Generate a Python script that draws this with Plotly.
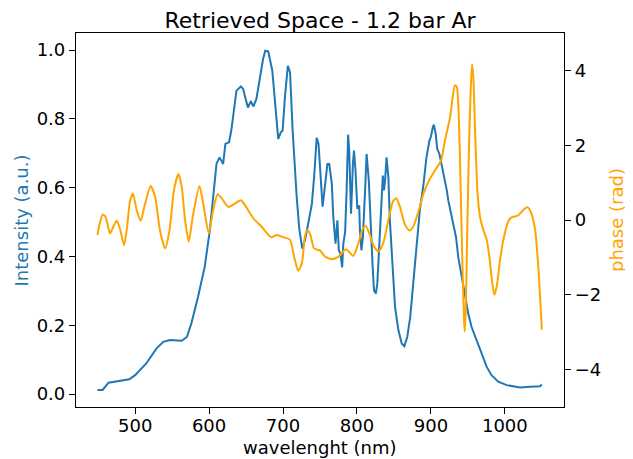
import plotly.graph_objects as go

# Intensity (blue) curve
wl_int = [449, 456, 464, 475, 488, 492, 500, 515, 529, 538, 547, 563, 570, 576, 585, 594, 601, 606.5, 610, 614,
          619, 622, 627, 630, 634, 637, 643, 646, 649.5, 652.5, 656.5, 660, 664, 669, 673, 676, 680, 685.5, 689, 693.5,
          697, 699.5, 702.5, 706.5, 709.5, 713, 718.5, 722, 726, 730, 734, 739, 742, 745.5, 748, 751, 753.5, 757, 760,
          762.5, 766, 768, 771, 773.5, 775.5, 777.5, 780, 781.5, 784, 786, 788, 789.5, 792, 794.5, 796, 798, 800.5, 803,
          804, 806, 808, 811, 813, 816, 818.5, 821, 823, 825.5, 827.5, 830, 833.5, 835, 836.5, 838, 840, 842.5, 844.5,
          848, 851.5, 856, 860.5, 864, 868, 872, 876, 881, 885, 890, 894, 898, 900, 902.5, 904, 906.5, 908.5, 911.5,
          914.5, 917.5, 921.5, 923.5, 927, 930, 934, 937, 941.5, 946, 950.5, 955, 962, 969, 975.5, 982, 991, 1002.5,
          1014, 1020.5, 1034, 1047.5, 1050]
intensity = [0.012, 0.012, 0.033, 0.037, 0.041, 0.043, 0.055, 0.089, 0.133, 0.152, 0.157, 0.155, 0.166, 0.205, 0.282,
             0.369, 0.476, 0.592, 0.669, 0.688, 0.669, 0.727, 0.732, 0.766, 0.824, 0.882, 0.894, 0.887, 0.858, 0.833,
             0.851, 0.836, 0.858, 0.920, 0.974, 0.998, 0.996, 0.940, 0.862, 0.742, 0.761, 0.766, 0.862, 0.954, 0.935,
             0.766, 0.572, 0.480, 0.423, 0.450, 0.495, 0.553, 0.630, 0.745, 0.727, 0.611, 0.545, 0.611, 0.669, 0.669,
             0.611, 0.514, 0.437, 0.505, 0.418, 0.410, 0.368, 0.437, 0.471, 0.592, 0.754, 0.708, 0.524, 0.669, 0.708,
             0.650, 0.539, 0.548, 0.476, 0.418, 0.456, 0.592, 0.698, 0.621, 0.476, 0.379, 0.302, 0.292, 0.321, 0.437,
             0.601, 0.635, 0.592, 0.621, 0.688, 0.630, 0.505, 0.360, 0.253, 0.186, 0.147, 0.139, 0.166, 0.224, 0.321,
             0.427, 0.534, 0.611, 0.688, 0.737, 0.748, 0.775, 0.783, 0.756, 0.713, 0.698, 0.669, 0.640, 0.592, 0.563,
             0.529, 0.495, 0.456, 0.398, 0.340, 0.282, 0.234, 0.195, 0.157, 0.118, 0.079, 0.055, 0.036, 0.026, 0.021,
             0.019, 0.021, 0.023, 0.028]

# Phase (orange) curve
wl_phase = [449, 452, 456, 460, 466, 470, 475, 479, 485, 489, 493, 497, 502, 507.5, 513, 521, 527, 533.5, 540.5, 546.5,
            552.5, 558.5, 563, 567.5, 572.5, 578, 587, 592, 599.5, 605.5, 611.5, 617, 626, 635, 643, 648.5, 660, 671,
            684, 691.5, 700.5, 709.5, 715, 720.5, 725.5, 729.5, 733, 737, 742, 750, 757, 766, 775, 785, 795, 802, 808,
            812, 817.5, 823, 829, 835.5, 842.5, 848.5, 853, 858, 865, 871, 876, 883, 890, 896.5, 905.5, 913.5, 919,
            926, 929.5, 932.5, 935, 937, 939.5, 942, 944.8, 945.7, 947, 949.2, 951.5, 953.8, 955.6, 957.4, 959.7,
            962.8, 966.4, 971, 975.5, 979, 983, 985.8, 989, 993.5, 998, 1004.5, 1009, 1018, 1025, 1030.5, 1035, 1041,
            1045.5, 1050]
phase = [-0.40, -0.10, 0.15, 0.08, -0.36, -0.20, -0.02, -0.20, -0.67, -0.20, 0.50, 0.71, 0.27, -0.02, 0.40, 0.91,
         0.62, -0.27, -0.76, -0.27, 0.80, 1.23, 0.89, 0.00, -0.58, 0.10, 0.91, 0.45, -0.36, 0.27, 0.69, 0.58, 0.35,
         0.44, 0.53, 0.40, 0.04, -0.18, -0.46, -0.40, -0.46, -0.53, -0.98, -1.36, -1.16, -0.45, -0.27, -0.40, -0.76,
         -0.82, -0.98, -1.05, -0.98, -0.78, -0.96, -0.62, -0.22, -0.16, -0.40, -0.71, -0.84, -0.62, 0.00, 0.49, 0.58,
         0.36, -0.13, -0.28, -0.18, 0.22, 0.71, 1.02, 1.33, 1.58, 2.13, 2.75, 3.29, 3.60, 3.56, 3.11, 1.51, -0.71,
         -2.67, -2.98, -2.49, -0.27, 1.96, 3.47, 4.16, 3.82, 2.40, 0.80, 0.09, -0.27, -0.53, -0.98, -1.69, -2.00,
         -1.78, -1.07, -0.53, -0.04, 0.07, 0.12, 0.27, 0.34, 0.22, -0.27, -1.33, -2.93]

x_ticks = [500, 600, 700, 800, 900, 1000]
y_ticks = [0.0, 0.2, 0.4, 0.6, 0.8, 1.0]
y2_ticks = [-4, -2, 0, 2, 4]

BLUE = "#1f77b4"
ORANGE = "orange"
FONT = "DejaVu Sans"

fig = go.Figure()
fig.add_trace(go.Scatter(x=wl_int, y=intensity, mode="lines", line=dict(color=BLUE, width=2), yaxis="y"))
fig.add_trace(go.Scatter(x=wl_phase, y=phase, mode="lines", line=dict(color=ORANGE, width=2, shape="spline", smoothing=0.6),
                         yaxis="y2"))

axis_common = dict(showgrid=False, zeroline=False, showline=True, linecolor="black", linewidth=1.2,
                   ticks="outside", ticklen=6, tickwidth=1.2, tickcolor="black",
                   tickfont=dict(family=FONT, size=18, color="black"))

W, H = 625, 451
fig.update_layout(
    width=W, height=H,
    margin=dict(l=68, r=69, t=25, b=52),
    paper_bgcolor="white", plot_bgcolor="white",
    showlegend=False,
    font=dict(family=FONT, color="black"),
    title=dict(text="Retrieved Space - 1.2 bar Ar", x=(320 - 8) / W, xanchor="center", y=1 - 12 / H, yanchor="middle",
               font=dict(family=FONT, size=22, color="black")),
    xaxis=dict(range=[420, 1080], tickvals=x_ticks, mirror=True, ticklabelstandoff=-4, **axis_common),
    yaxis=dict(range=[-0.0375, 1.0495], tickvals=y_ticks, tickformat=".1f", **axis_common),
    yaxis2=dict(range=[-5, 5], tickvals=y2_ticks, overlaying="y", side="right", **axis_common),
    annotations=[
        dict(text="wavelenght (nm)", xref="paper", yref="paper", x=0.5, y=-0.108, xanchor="center", yanchor="middle",
             showarrow=False, font=dict(family=FONT, size=18, color="black")),
        dict(text="Intensity (a.u.)", xref="paper", yref="paper", x=-0.1117, y=0.5, xanchor="center", yanchor="middle",
             textangle=-90, showarrow=False, font=dict(family=FONT, size=18, color=BLUE)),
        dict(text="phase (rad)", xref="paper", yref="paper", x=1.1066, y=0.5, xanchor="center", yanchor="middle",
             textangle=-90, showarrow=False, font=dict(family=FONT, size=18, color=ORANGE)),
    ],
)

fig.write_html("out.html")
